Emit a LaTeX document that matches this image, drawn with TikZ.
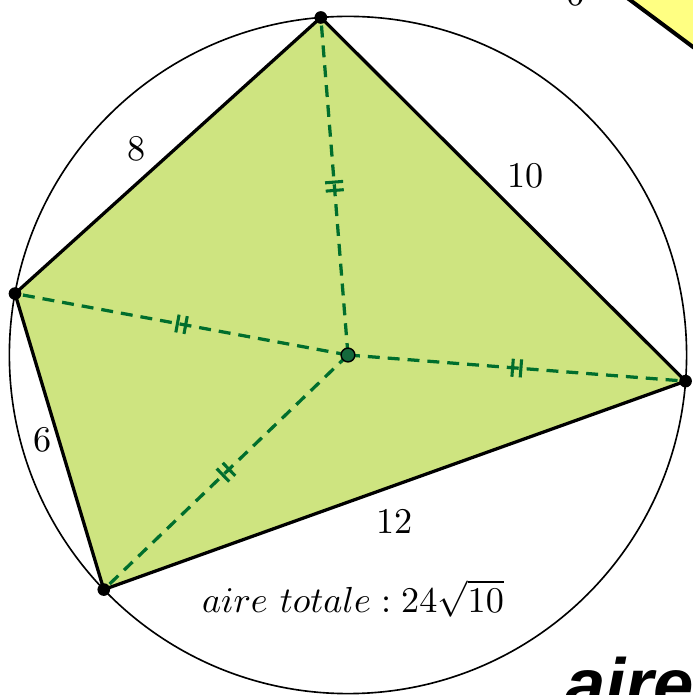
\documentclass[tikz,border=0pt]{standalone}
\usepackage{fontspec}
\newfontfamily\bannerfont{Liberation Sans}
\usetikzlibrary{calc, decorations.markings}

\definecolor{quadFill}{RGB}{206, 228, 128}
\definecolor{radGreen}{RGB}{0, 110, 45}
\definecolor{centerGreen}{RGB}{20, 105, 60}
\definecolor{noteYellow}{RGB}{255, 255, 130}

\begin{document}
\begin{tikzpicture}[
      x=0.5cm, y=0.5cm,
      every node/.style={font=\normalsize},
      side/.style={draw=black, line width=0.9pt, line join=round},
      radseg/.style={radGreen, line width=0.9pt, dash pattern=on 3.3pt off 2.2pt,
        postaction={decorate, decoration={markings, mark=at position 0.5 with {
          \draw[radGreen, solid, line width=0.85pt] (-1.15pt,-2.5pt) -- (-1.15pt,2.5pt) (1.15pt,-2.5pt) -- (1.15pt,2.5pt);}}}},
      vdot/.style={circle, fill=black, inner sep=0pt, minimum size=3.5pt},
      cdot/.style={circle, draw=black, fill=centerGreen, inner sep=0pt, minimum size=3.8pt, line width=0.4pt}
    ]
      \useasboundingbox (-6.757,-6.602) rectangle (6.699,6.893);
      \clip (-6.757,-6.602) rectangle (6.699,6.893);

      % fragments of the next panel
      \coordinate (noteA) at (5.2,7.1);
      \coordinate (noteB) at (7.0,5.757);
      \fill[noteYellow] (noteA) -- (noteB) -- (7.0,7.1) -- cycle;
      \draw[line width=1.1pt] (noteA) -- (noteB);
      \node[anchor=base, inner sep=0pt] (topSix) at (4.427,6.777) {6};
      \node[anchor=base west, inner sep=0pt, font={\bannerfont\bfseries\itshape\fontsize{20}{24}\selectfont}] (aireCut) at (4.20,-6.893) {aire};

      % circle and quadrilateral
      \coordinate (O) at (0,0);
      \coordinate (A) at (94.6:6.575);
      \coordinate (B) at (169.55:6.575);
      \coordinate (C) at (223.85:6.575);
      \coordinate (D) at (355.57:6.575);

      \draw[line width=0.45pt] (O) circle[radius=6.575];
      \fill[quadFill] (A) -- (B) -- (C) -- (D) -- cycle;

      \foreach \v in {A,B,C,D}
        \draw[radseg] (O) -- (\v);

      \draw[side] (A) -- (B) -- (C) -- (D) -- cycle;

      \foreach \v in {A,B,C,D}
        \node[vdot] (dot\v) at (\v) {};
      \node[cdot] (center) at (O) {};

      % side lengths
      \node (lab8) at (-4.107,4.010) {8};
      \node (lab10) at (3.447,3.481) {10};
      \node (lab6) at (-5.932,-1.650) {6};
      \node (lab12) at (0.903,-3.233) {12};
      \node[anchor=base] (area) at (0.097,-5.0) {$aire\ totale : 24\sqrt{10}$};
    \end{tikzpicture}
\end{document}
